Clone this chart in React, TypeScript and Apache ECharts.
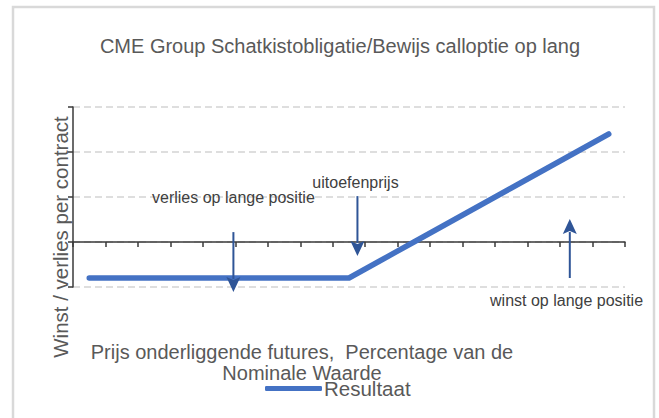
import React, { useEffect, useRef } from "react";
import * as echarts from "echarts";

// Underlying futures price positions (axis units) and resulting profit/loss
const priceSteps = [0.5, 1.5, 2.5, 3.5, 4.5, 5.5, 6.5, 7.5, 8.5, 9.5, 10.5, 11.5, 12.5, 13.5, 14.5, 15.5, 16.5];
const result = [-0.8, -0.8, -0.8, -0.8, -0.8, -0.8, -0.8, -0.8, -0.8, -0.4, 0, 0.4, 0.8, 1.2, 1.6, 2.0, 2.4];

// Annotations (arrows with labels), in data units
const annLabels = ["verlies op lange positie", "uitoefenprijs", "winst op lange positie"];
const annX = [4.94, 8.76, 15.3];
const annFrom = [0.22, 1.02, -0.8];
const annTo = [-1.11, -0.31, 0.51];
const annLabelX = [4.94, 8.7, 15.2];
const annLabelY = [0.98, 1.33, -1.29];

const titleText = "CME Group Schatkistobligatie/Bewijs calloptie op lang";
const yName = "Winst / verlies per contract";
const xName = "Prijs onderliggende futures,  Percentage van de\nNominale Waarde";
const seriesName = "Resultaat";

const FONT = "Liberation Sans, Arial, sans-serif";

export default function App() {
  const ref = useRef<HTMLDivElement>(null);
  useEffect(() => {
    if (!ref.current) return;
    const chart = echarts.init(ref.current, undefined, { renderer: "svg" });
    const annData = annX.map((x, i) => [x, annFrom[i], annTo[i], annLabelX[i], annLabelY[i]]);
    chart.setOption({
      animation: false,
      textStyle: { fontFamily: FONT },
      title: [
        {
          text: titleText,
          left: 335,
          top: 31,
          textAlign: "center",
          textStyle: { fontSize: 20, fontWeight: "normal", color: "#595959", fontFamily: FONT },
        },
      ],
      graphic: [
        {
          type: "rect",
          shape: { x: 13, y: 7, width: 641, height: 430 },
          style: { fill: "none", stroke: "#d9d9d9", lineWidth: 2.5 },
          silent: true,
        },
        {
          type: "text",
          x: 60,
          y: 237,
          rotation: Math.PI / 2,
          style: {
            text: yName,
            align: "center",
            verticalAlign: "middle",
            fill: "#595959",
            font: `20.5px ${FONT}`,
          },
        },
        {
          type: "text",
          x: 302,
          y: 362,
          style: {
            text: xName,
            align: "center",
            verticalAlign: "middle",
            fill: "#595959",
            font: `20px ${FONT}`,
            lineHeight: 21,
          },
        },
      ],
      legend: {
        left: 265,
        top: 378,
        padding: 0,
        icon: "roundRect",
        itemWidth: 57,
        itemHeight: 5,
        itemGap: 3,
        textStyle: { fontSize: 20.5, color: "#595959", fontFamily: FONT, padding: [0, 0, 0, -3] },
        data: [seriesName],
      },
      grid: { left: 73, right: 34, top: 107, bottom: 131 },
      xAxis: {
        type: "value",
        min: 0,
        max: 17,
        interval: 1,
        axisLine: { onZero: true, lineStyle: { color: "#3a3a3a", width: 1.5 } },
        axisTick: { show: true, length: 5, lineStyle: { color: "#3a3a3a", width: 1.5 } },
        axisLabel: { show: false },
        splitLine: { show: false },
      },
      yAxis: {
        type: "value",
        min: -1,
        max: 3,
        interval: 1,
        axisLine: { show: true, lineStyle: { color: "#3a3a3a", width: 1.5 } },
        axisTick: { show: true, length: 5, lineStyle: { color: "#3a3a3a", width: 1.5 } },
        axisLabel: { show: false },
        splitLine: { show: true, lineStyle: { color: "#d4d4d4", width: 1.6, type: [7, 4] } },
      },
      series: [
        {
          name: seriesName,
          type: "line",
          data: priceSteps.map((x, i) => [x, result[i]]),
          showSymbol: false,
          symbol: "none",
          itemStyle: { color: "#4472C4" },
          lineStyle: { color: "#4472C4", width: 5.5, cap: "round", join: "round" },
          z: 3,
        },
        {
          type: "custom",
          silent: true,
          clip: false,
          z: 4,
          data: annData,
          renderItem: (params: any, api: any) => {
            const i = params.dataIndex;
            const p1 = api.coord([api.value(0), api.value(1)]);
            const p2 = api.coord([api.value(0), api.value(2)]);
            const lp = api.coord([api.value(3), api.value(4)]);
            const dir = p2[1] > p1[1] ? 1 : -1;
            const headLen = 15;
            const headHalf = 7;
            const baseY = p2[1] - dir * headLen;
            return {
              type: "group",
              children: [
                {
                  type: "line",
                  shape: { x1: p1[0], y1: p1[1], x2: p2[0], y2: baseY + dir * 2 },
                  style: { stroke: "#2F5597", lineWidth: 2 },
                },
                {
                  type: "polygon",
                  shape: {
                    points: [
                      [p2[0], p2[1]],
                      [p2[0] - headHalf, baseY],
                      [p2[0], baseY + dir * 3],
                      [p2[0] + headHalf, baseY],
                    ],
                  },
                  style: { fill: "#2F5597" },
                },
                {
                  type: "text",
                  x: lp[0],
                  y: lp[1],
                  style: {
                    text: annLabels[i],
                    align: "center",
                    verticalAlign: "middle",
                    fill: "#404040",
                    font: `16px ${FONT}`,
                  },
                },
              ],
            };
          },
        },
      ],
    });
    return () => chart.dispose();
  }, []);
  return (
    <div
      ref={ref}
      style={{ position: "absolute", left: 0, top: 0, width: 659, height: 418 }}
    />
  );
}
